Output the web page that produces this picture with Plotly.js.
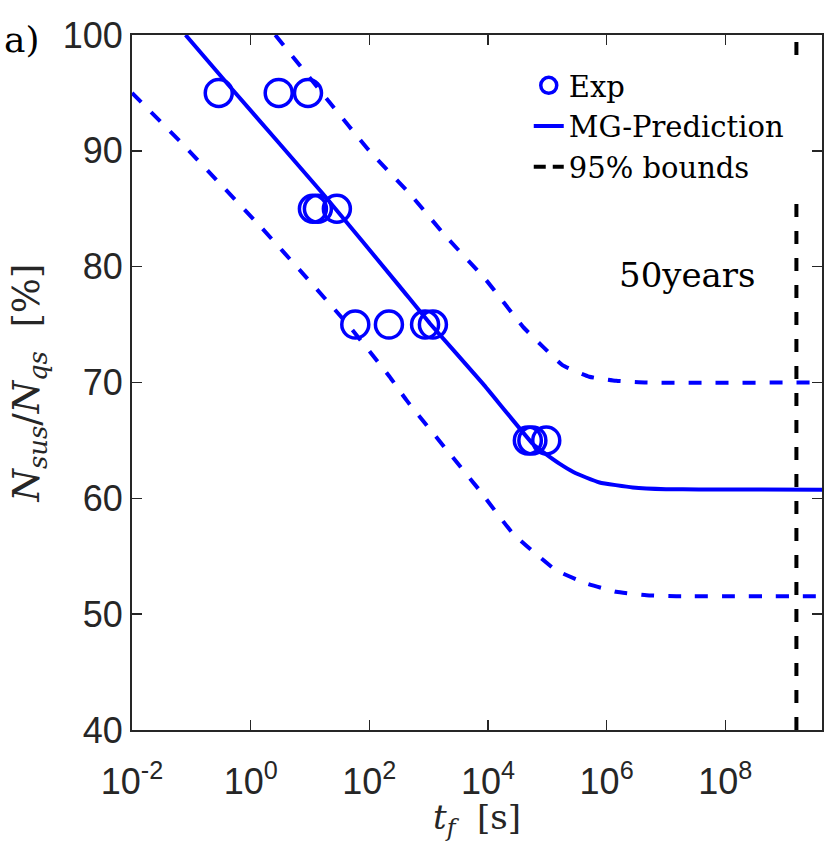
<!DOCTYPE html>
<html>
<head>
<meta charset="utf-8">
<script src="https://cdn.plot.ly/plotly-3.0.1.min.js"></script>
<style>
  html, body { margin: 0; padding: 0; background: #fff; }
  #chart { width: 830px; height: 843px; }
</style>
</head>
<body>
<div id="chart"></div>
<script>
// experiments (time to failure in s, ratio in %)
const expT = [0.29, 2.97, 9.25, 11.2, 13.6, 28.4, 58, 214, 870, 1180, 4.7e4, 5.6e4, 9.6e4];
const expN = [95, 95, 95, 85, 85, 85, 75, 75, 75, 75, 65, 65, 65];

// MG prediction curve
const predT = [0.08, 0.5, 16.5, 324, 1050, 8200, 5.7e4, 9.6e4, 1.6e5, 2.7e5, 4.5e5, 7.6e5, 2.75e6, 1e7, 3.6e7, 5e9];
const predN = [100, 95.25, 86.3, 78.3, 75.1, 69.9, 64.7, 63.8, 63.0, 62.3, 61.8, 61.37, 60.94, 60.79, 60.77, 60.75];

// 95% bounds
const upperT = [2.6, 21, 100, 480, 1980, 9300, 3.9e4, 8.4e4, 1.8e5, 5.1e5, 1.45e6, 4.7e6, 5e9];
const upperN = [100, 94.24, 90.0, 86.3, 82.58, 78.84, 74.8, 73.1, 71.5, 70.5, 70.15, 70.0, 70.0];
const lowerT = [0.01, 0.065, 0.30, 1.5, 7.6, 47, 220, 420, 2000, 7200, 2.6e4, 1.4e5, 4.6e5, 1.45e6, 4.7e6, 1.5e7, 5e9];
const lowerN = [95.0, 90.8, 87.2, 83.4, 79.4, 74.8, 70.5, 68.5, 64.2, 60.7, 57.0, 53.8, 52.65, 51.93, 51.64, 51.55, 51.55];

// 50 years marker
const fiftyYearsT = [1.58e9, 1.58e9];
const fiftyYearsN = [40, 100];

const xTickVals = [1e-2, 1, 1e2, 1e4, 1e6, 1e8];
const xTickText = ['10<sup>-2</sup>', '10<sup>0</sup>', '10<sup>2</sup>', '10<sup>4</sup>', '10<sup>6</sup>', '10<sup>8</sup>'];
const yTickVals = [40, 50, 60, 70, 80, 90, 100];

const blue = '#0000ff';
const axisColor = '#262626';
const serif = 'DejaVu Serif, serif';
const sans = 'Liberation Sans, Arial, sans-serif';
const dashed = '13px,14px';

const traces = [
    {
        x: upperT, y: upperN, type: 'scatter', mode: 'lines',
        line: { color: blue, width: 4, dash: dashed, shape: 'spline', smoothing: 0.4 },
        showlegend: false, hoverinfo: 'skip'
    },
    {
        x: lowerT, y: lowerN, type: 'scatter', mode: 'lines',
        line: { color: blue, width: 4, dash: dashed, shape: 'spline', smoothing: 0.4 },
        showlegend: false, hoverinfo: 'skip'
    },
    {
        x: expT, y: expN, type: 'scatter', mode: 'markers', name: 'Exp',
        marker: { symbol: 'circle-open', size: 27, color: blue, line: { width: 3.5, color: blue } }
    },
    {
        x: predT, y: predN, type: 'scatter', mode: 'lines', name: 'MG-Prediction',
        line: { color: blue, width: 4, shape: 'spline', smoothing: 0.4 }
    },
    {
        x: fiftyYearsT, y: fiftyYearsN, type: 'scatter', mode: 'lines',
        line: { color: '#000', width: 4, dash: dashed },
        showlegend: false
    },
    // legend entry only, so the short legend sample shows two dashes
    {
        x: [null], y: [null], type: 'scatter', mode: 'lines', name: '95% bounds',
        line: { color: '#000', width: 4, dash: '12px,7px' }
    }
];

const layout = {
    width: 830,
    height: 843,
    margin: { l: 132, r: 8, t: 35, b: 113 },
    paper_bgcolor: '#fff',
    plot_bgcolor: '#fff',
    showlegend: true,
    legend: {
        x: 0.575, y: 0.964, xanchor: 'left', yanchor: 'top',
        bgcolor: 'rgba(0,0,0,0)', borderwidth: 0,
        font: { family: serif, size: 29, color: '#000' },
        tracegroupgap: 0
    },
    // white legend box as in the original, hiding the 50 year line behind it
    shapes: [
        {
            type: 'rect', xref: 'paper', yref: 'paper', layer: 'above',
            x0: 0.535, x1: 0.985, y0: 0.77, y1: 0.963,
            fillcolor: '#fff', line: { width: 0 }
        }
    ],
    xaxis: {
        type: 'log',
        range: [-2, 9.63],
        tickmode: 'array',
        tickvals: xTickVals,
        ticktext: xTickText,
        ticks: 'inside', ticklen: 10, tickwidth: 1.5, tickcolor: axisColor,
        ticklabelstandoff: 19,
        showline: true, linecolor: axisColor, linewidth: 2, mirror: 'ticks',
        showgrid: false, zeroline: false,
        tickfont: { family: sans, size: 36, color: axisColor }
    },
    yaxis: {
        range: [40, 100],
        tickmode: 'array',
        tickvals: yTickVals,
        ticks: 'inside', ticklen: 10, tickwidth: 1.5, tickcolor: axisColor,
        showline: true, linecolor: axisColor, linewidth: 2, mirror: 'ticks',
        showgrid: false, zeroline: false,
        tickfont: { family: sans, size: 36, color: axisColor },
        title: {
            text: '<i>N</i><sub><i>sus</i></sub>/<i>N</i><sub><i>qs</i></sub>  [%]',
            font: { family: serif, size: 37, color: axisColor },
            standoff: 12
        }
    },
    annotations: [
        {
            // x axis title, placed by hand below the lowered tick labels
            text: '<i>t</i><sub><i>f</i></sub>  [s]', xref: 'paper', yref: 'paper',
            x: 0.5, y: -0.129, xanchor: 'center', yanchor: 'middle', showarrow: false,
            font: { family: serif, size: 34, color: axisColor }
        },
        {
            text: 'a)', xref: 'paper', yref: 'paper', x: -0.188, y: 0.993,
            xanchor: 'left', yanchor: 'middle', showarrow: false,
            font: { family: serif, size: 36, color: '#000' }
        },
        {
            text: '50years', xref: 'x', yref: 'y', x: 7.36, y: 79.3,
            xanchor: 'center', yanchor: 'middle', showarrow: false,
            font: { family: serif, size: 34, color: '#000' }
        }
    ]
};

Plotly.newPlot('chart', traces, layout, { staticPlot: true, displayModeBar: false });
</script>
</body>
</html>
